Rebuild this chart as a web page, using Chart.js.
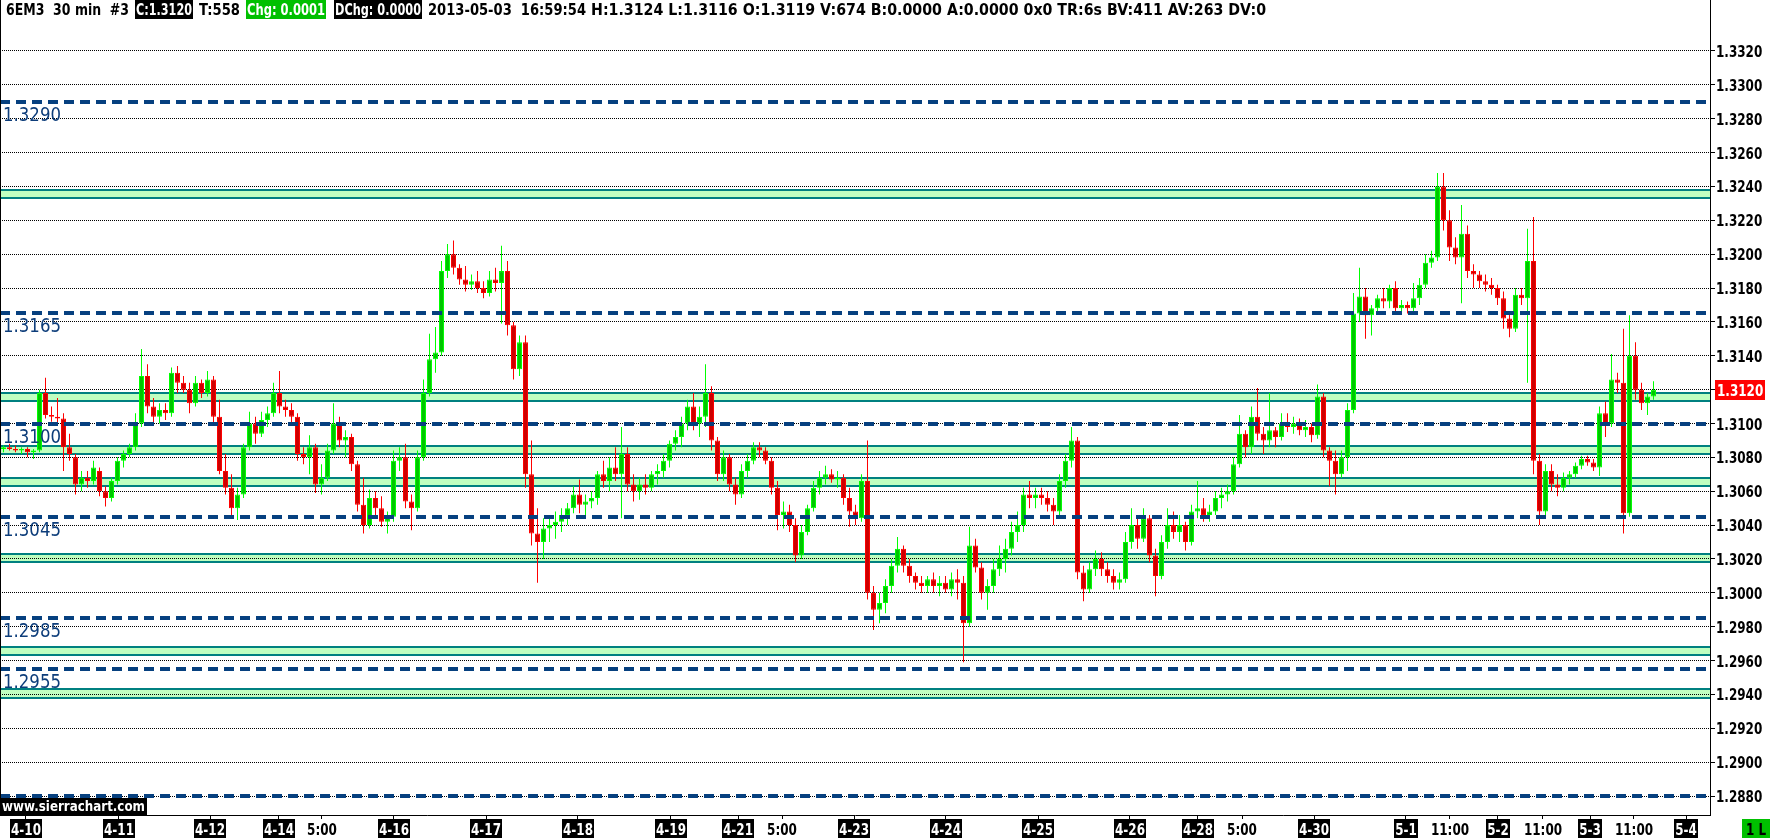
<!DOCTYPE html>
<html>
<head>
<meta charset="utf-8">
<title>6EM3 30 min</title>
<script src="https://cdn.jsdelivr.net/npm/chart.js@4.4.1/dist/chart.umd.min.js"></script>
<style>
  html, body { margin: 0; padding: 0; background: #fff; }
  canvas { display: block; }
</style>
</head>
<body>
<canvas id="chart" width="1772" height="840"></canvas>
<script>
// bars of 1.5 hours each, oldest first
var opens = [1.3085,1.3086,1.3085,1.3084,1.3085,1.3083,1.3084,1.3118,1.3105,1.3104,
1.3103,1.3086,1.3080,1.3064,1.3068,1.3066,1.3072,1.3060,1.3056,1.3066,
1.3078,1.3082,1.3086,1.3100,1.3128,1.3110,1.3104,1.3108,1.3106,1.3130,
1.3124,1.3120,1.3112,1.3124,1.3118,1.3126,1.3104,1.3072,1.3062,1.3050,
1.3058,1.3086,1.3100,1.3094,1.3102,1.3106,1.3118,1.3110,1.3108,1.3104,
1.3082,1.3080,1.3086,1.3064,1.3068,1.3084,1.3100,1.3090,1.3092,1.3076,
1.3052,1.3040,1.3056,1.3050,1.3042,1.3045,1.3078,1.3080,1.3054,1.3050,
1.3080,1.3118,1.3138,1.3142,1.3190,1.3200,1.3192,1.3185,1.3182,1.3184,
1.3180,1.3177,1.3185,1.3183,1.3190,1.3158,1.3132,1.3148,1.3070,1.3035,
1.3030,1.3038,1.3040,1.3042,1.3046,1.3050,1.3058,1.3052,1.3054,1.3056,
1.3070,1.3066,1.3074,1.3070,1.3082,1.3064,1.3060,1.3064,1.3062,1.3070,
1.3072,1.3078,1.3088,1.3092,1.3100,1.3110,1.3100,1.3104,1.3118,1.3090,
1.3070,1.3080,1.3064,1.3058,1.3072,1.3078,1.3086,1.3084,1.3078,1.3062,
1.3046,1.3048,1.3040,1.3022,1.3036,1.3050,1.3062,1.3068,1.3070,1.3067,
1.3068,1.3056,1.3048,1.3044,1.3066,1.3000,1.2990,1.2994,1.3004,1.3016,
1.3026,1.3016,1.3010,1.3006,1.3004,1.3008,1.3004,1.3006,1.3002,1.3008,
1.3006,1.2982,1.3028,1.3015,1.3000,1.3004,1.3014,1.3020,1.3026,1.3036,
1.3040,1.3058,1.3056,1.3058,1.3056,1.3052,1.3048,1.3066,1.3078,1.3090,
1.3012,1.3002,1.3014,1.3020,1.3014,1.3010,1.3006,1.3008,1.3030,1.3040,
1.3032,1.3044,1.3022,1.3010,1.3030,1.3040,1.3036,1.3040,1.3030,1.3048,
1.3050,1.3046,1.3048,1.3056,1.3058,1.3060,1.3076,1.3094,1.3086,1.3104,
1.3094,1.3090,1.3096,1.3092,1.3100,1.3098,1.3100,1.3096,1.3098,1.3093,
1.3116,1.3084,1.3078,1.3070,1.3080,1.3108,1.3165,1.3175,1.3164,1.3168,
1.3174,1.3172,1.3180,1.3168,1.3170,1.3168,1.3174,1.3182,1.3195,1.3198,
1.3240,1.3220,1.3204,1.3198,1.3212,1.3190,1.3188,1.3184,1.3182,1.3180,
1.3174,1.3162,1.3156,1.3176,1.3174,1.3196,1.3078,1.3048,1.3072,1.3064,
1.3062,1.3068,1.3070,1.3075,1.3079,1.3077,1.3074,1.3106,1.3100,1.3126,
1.3124,1.3047,1.3140,1.3120,1.3112,1.3116];

var highs = [1.3087,1.3088,1.3087,1.3086,1.3086,1.3085,1.3120,1.3127,1.3110,1.3115,
1.3106,1.3094,1.3082,1.3072,1.3072,1.3078,1.3074,1.3063,1.3068,1.3080,
1.3084,1.3088,1.3106,1.3144,1.3135,1.3115,1.3112,1.3112,1.3133,1.3134,
1.3128,1.3124,1.3128,1.3126,1.3131,1.3128,1.3114,1.3082,1.3070,1.3062,
1.3088,1.3107,1.3104,1.3107,1.3110,1.3124,1.3131,1.3114,1.3112,1.3106,
1.3086,1.3093,1.3088,1.3076,1.3088,1.3112,1.3104,1.3096,1.3094,1.3078,
1.3068,1.3061,1.3060,1.3057,1.3048,1.3084,1.3086,1.3088,1.3058,1.3084,
1.3126,1.3153,1.3157,1.3196,1.3206,1.3208,1.3194,1.3193,1.3188,1.3190,
1.3184,1.3190,1.3192,1.3205,1.3196,1.3160,1.3152,1.3152,1.3090,1.3050,
1.3044,1.3046,1.3048,1.3050,1.3053,1.3063,1.3067,1.3058,1.3060,1.3072,
1.3078,1.3080,1.3086,1.3098,1.3086,1.3070,1.3068,1.3070,1.3072,1.3076,
1.3082,1.3090,1.3096,1.3104,1.3114,1.3118,1.3110,1.3135,1.3122,1.3092,
1.3084,1.3082,1.3068,1.3076,1.3082,1.3089,1.3089,1.3086,1.3080,1.3066,
1.3054,1.3052,1.3044,1.3040,1.3052,1.3066,1.3072,1.3075,1.3073,1.3072,
1.3070,1.3062,1.3052,1.3070,1.3090,1.3004,1.3000,1.3008,1.3020,1.3033,
1.3028,1.3020,1.3012,1.3010,1.3010,1.3012,1.3010,1.3010,1.3012,1.3014,
1.3010,1.3039,1.3032,1.3018,1.3008,1.3020,1.3028,1.3032,1.3042,1.3048,
1.3062,1.3066,1.3062,1.3062,1.3060,1.3056,1.3070,1.3082,1.3098,1.3092,
1.3016,1.3018,1.3025,1.3024,1.3018,1.3014,1.3012,1.3036,1.3050,1.3044,
1.3050,1.3046,1.3026,1.3034,1.3050,1.3048,1.3046,1.3042,1.3052,1.3066,
1.3056,1.3052,1.3060,1.3062,1.3064,1.3080,1.3105,1.3096,1.3110,1.3121,
1.3098,1.3118,1.3098,1.3106,1.3106,1.3104,1.3103,1.3102,1.3100,1.3123,
1.3118,1.3086,1.3084,1.3084,1.3112,1.3177,1.3192,1.3180,1.3170,1.3176,
1.3180,1.3182,1.3184,1.3173,1.3172,1.3183,1.3186,1.3200,1.3202,1.3248,
1.3248,1.3226,1.3210,1.3229,1.3217,1.3194,1.3190,1.3188,1.3186,1.3182,
1.3178,1.3166,1.3180,1.3180,1.3215,1.3222,1.3082,1.3076,1.3076,1.3070,
1.3071,1.3072,1.3077,1.3081,1.3081,1.3079,1.3110,1.3113,1.3141,1.3130,
1.3156,1.3164,1.3148,1.3124,1.3118,1.3125];

var lows = [1.3083,1.3084,1.3083,1.3082,1.3080,1.3079,1.3083,1.3103,1.3101,1.3100,
1.3072,1.3078,1.3058,1.3060,1.3062,1.3064,1.3057,1.3051,1.3054,1.3064,
1.3074,1.3080,1.3084,1.3098,1.3106,1.3100,1.3100,1.3102,1.3104,1.3118,
1.3118,1.3106,1.3110,1.3115,1.3116,1.3100,1.3070,1.3058,1.3045,1.3043,
1.3056,1.3084,1.3088,1.3092,1.3098,1.3104,1.3106,1.3104,1.3100,1.3078,
1.3076,1.3070,1.3059,1.3058,1.3066,1.3082,1.3086,1.3080,1.3072,1.3048,
1.3035,1.3038,1.3046,1.3039,1.3035,1.3042,1.3072,1.3050,1.3037,1.3048,
1.3078,1.3116,1.3130,1.3140,1.3186,1.3188,1.3182,1.3178,1.3179,1.3177,
1.3174,1.3175,1.3178,1.3159,1.3152,1.3126,1.3128,1.3062,1.3028,1.3006,
1.3020,1.3030,1.3032,1.3036,1.3040,1.3047,1.3047,1.3044,1.3050,1.3052,
1.3062,1.3060,1.3066,1.3044,1.3060,1.3054,1.3055,1.3058,1.3060,1.3064,
1.3068,1.3074,1.3084,1.3086,1.3096,1.3096,1.3092,1.3098,1.3084,1.3066,
1.3066,1.3060,1.3052,1.3056,1.3068,1.3076,1.3080,1.3076,1.3058,1.3037,
1.3038,1.3036,1.3018,1.3020,1.3034,1.3048,1.3058,1.3064,1.3065,1.3062,
1.3052,1.3039,1.3040,1.3042,1.2996,1.2978,1.2982,1.2988,1.3000,1.3012,
1.3012,1.3006,1.3002,1.3000,1.3000,1.3000,1.2998,1.3000,1.2998,1.2996,
1.2959,1.2980,1.3012,1.2996,1.2990,1.3000,1.3010,1.3012,1.3022,1.3030,
1.3036,1.3050,1.3050,1.3052,1.3048,1.3040,1.3046,1.3062,1.3074,1.3008,
1.2995,1.3000,1.3010,1.3010,1.3006,1.3002,1.3002,1.3006,1.3026,1.3026,
1.3030,1.3018,1.2998,1.3008,1.3026,1.3032,1.3030,1.3025,1.3028,1.3044,
1.3042,1.3042,1.3046,1.3050,1.3054,1.3058,1.3074,1.3080,1.3082,1.3090,
1.3082,1.3086,1.3086,1.3090,1.3095,1.3094,1.3093,1.3092,1.3089,1.3091,
1.3080,1.3063,1.3058,1.3068,1.3072,1.3106,1.3160,1.3150,1.3152,1.3166,
1.3168,1.3168,1.3166,1.3165,1.3165,1.3166,1.3170,1.3180,1.3192,1.3196,
1.3214,1.3196,1.3194,1.3171,1.3186,1.3180,1.3180,1.3178,1.3176,1.3170,
1.3156,1.3151,1.3154,1.3170,1.3124,1.3070,1.3040,1.3044,1.3060,1.3057,
1.3060,1.3064,1.3068,1.3073,1.3075,1.3072,1.3069,1.3092,1.3098,1.3118,
1.3035,1.3045,1.3114,1.3108,1.3105,1.3114];

var closes = [1.3086,1.3085,1.3084,1.3085,1.3083,1.3084,1.3118,1.3105,1.3104,1.3103,
1.3086,1.3082,1.3064,1.3068,1.3066,1.3074,1.3060,1.3056,1.3066,1.3078,
1.3082,1.3086,1.3100,1.3128,1.3110,1.3104,1.3108,1.3106,1.3130,1.3124,
1.3120,1.3112,1.3124,1.3118,1.3126,1.3104,1.3072,1.3062,1.3050,1.3058,
1.3086,1.3100,1.3094,1.3102,1.3106,1.3118,1.3110,1.3108,1.3104,1.3082,
1.3080,1.3086,1.3064,1.3068,1.3084,1.3100,1.3090,1.3092,1.3076,1.3052,
1.3040,1.3056,1.3050,1.3042,1.3045,1.3078,1.3080,1.3054,1.3050,1.3080,
1.3118,1.3138,1.3142,1.3190,1.3200,1.3192,1.3185,1.3182,1.3184,1.3180,
1.3177,1.3185,1.3183,1.3190,1.3158,1.3132,1.3148,1.3070,1.3035,1.3030,
1.3038,1.3040,1.3042,1.3046,1.3050,1.3058,1.3052,1.3054,1.3056,1.3070,
1.3066,1.3074,1.3070,1.3082,1.3064,1.3060,1.3064,1.3062,1.3070,1.3072,
1.3078,1.3088,1.3092,1.3100,1.3110,1.3100,1.3104,1.3118,1.3090,1.3070,
1.3080,1.3064,1.3058,1.3072,1.3078,1.3086,1.3084,1.3078,1.3062,1.3046,
1.3048,1.3040,1.3022,1.3036,1.3050,1.3062,1.3068,1.3070,1.3067,1.3068,
1.3056,1.3048,1.3044,1.3066,1.3000,1.2990,1.2994,1.3004,1.3016,1.3026,
1.3016,1.3010,1.3006,1.3004,1.3008,1.3004,1.3006,1.3002,1.3008,1.3006,
1.2982,1.3028,1.3015,1.3000,1.3004,1.3014,1.3020,1.3026,1.3036,1.3040,
1.3058,1.3056,1.3058,1.3056,1.3052,1.3048,1.3066,1.3078,1.3090,1.3012,
1.3002,1.3014,1.3020,1.3014,1.3010,1.3006,1.3008,1.3030,1.3040,1.3032,
1.3044,1.3022,1.3010,1.3030,1.3040,1.3036,1.3040,1.3030,1.3048,1.3050,
1.3046,1.3048,1.3056,1.3058,1.3060,1.3076,1.3094,1.3086,1.3104,1.3094,
1.3090,1.3096,1.3092,1.3100,1.3098,1.3100,1.3096,1.3098,1.3093,1.3116,
1.3084,1.3078,1.3070,1.3080,1.3108,1.3165,1.3175,1.3164,1.3168,1.3174,
1.3172,1.3180,1.3168,1.3170,1.3168,1.3174,1.3182,1.3195,1.3198,1.3240,
1.3220,1.3204,1.3198,1.3212,1.3190,1.3188,1.3184,1.3182,1.3180,1.3174,
1.3162,1.3156,1.3176,1.3174,1.3196,1.3078,1.3048,1.3072,1.3064,1.3062,
1.3068,1.3070,1.3075,1.3079,1.3077,1.3074,1.3106,1.3100,1.3126,1.3124,
1.3047,1.3140,1.3120,1.3112,1.3116,1.3120];

// axis labels
var priceTicks = [1.2880,1.2900,1.2920,1.2940,1.2960,1.2980,1.3000,1.3020,1.3040,1.3060,1.3080,
                  1.3100,1.3120,1.3140,1.3160,1.3180,1.3200,1.3220,1.3240,1.3260,1.3280,1.3300,1.3320];
// [bar position, text]
var dateTicks = [[3.75,'4-10'],[19.18,'4-11'],[34.5,'4-12'],[45.85,'4-14'],[53.08,'5:00'],
                 [65.08,'4-16'],[80.42,'4-17'],[95.75,'4-18'],[111.25,'4-19'],[122.5,'4-21'],
                 [129.83,'5:00'],[141.83,'4-23'],[157.08,'4-24'],[172.42,'4-25'],[187.75,'4-26'],
                 [199.08,'4-28'],[206.42,'5:00'],[218.42,'4-30'],[233.75,'5-1'],[241.08,'11:00'],
                 [249.08,'5-2'],[256.58,'11:00'],[264.42,'5-3'],[271.75,'11:00'],[280.5,'5-4']];

// drawn levels
var levelLines = [1.3290, 1.3165, 1.3100, 1.3045, 1.2985, 1.2955, 1.2880];
var zoneTops = [1.3238, 1.3118, 1.3087, 1.3068, 1.3023, 1.2968, 1.2943];
var zoneBottoms = [1.3233, 1.3113, 1.3082, 1.3063, 1.3018, 1.2963, 1.2938];

// header text and its box colour
var headerParts = [
  ['6EM3  30 min  #3', null],
  ['C:1.3120', '#000000'],
  ['T:558', null],
  ['Chg: 0.0001', '#00c000'],
  ['DChg: 0.0000', '#000000'],
  ['2013-05-03  16:59:54', null],
  ['H:1.3124 L:1.3116 O:1.3119 V:674 B:0.0000 A:0.0000 0x0 TR:6s BV:411 AV:263 DV:0', null]
];
// where each header piece sits (left, right in px)
var headerSlots = [[6, 129], [135, 193], [199, 240], [246, 326], [334, 422], [428, 586], [591, 1266]];

var LEVEL_BLUE = '#06407f';

function boldFont(size) {
  return 'bold ' + size + 'px "DejaVu Sans"';
}

// narrow bold text, Sierra style
function narrowText(ctx, str, x, base, size, color, align, sx) {
  ctx.save();
  ctx.font = boldFont(size);
  var w = ctx.measureText(str).width * sx;
  var left = align === 'center' ? x - w / 2 : x;
  ctx.translate(left, base);
  ctx.scale(sx, 1);
  ctx.fillStyle = color;
  ctx.textAlign = 'left';
  ctx.textBaseline = 'alphabetic';
  ctx.fillText(str, 0, 0);
  ctx.restore();
  return w;
}

function narrowWidth(ctx, str, size, sx) {
  ctx.save();
  ctx.font = boldFont(size);
  var w = ctx.measureText(str).width * sx;
  ctx.restore();
  return w;
}

var sierraDecor = {
  id: 'sierraDecor',
  beforeDraw: function (chart) {
    var ctx = chart.ctx, a = chart.chartArea, ys = chart.scales.y;
    ctx.save();
    for (var i = 0; i < zoneTops.length; i++) {
      var t = Math.round(ys.getPixelForValue(zoneTops[i]));
      var b = Math.round(ys.getPixelForValue(zoneBottoms[i]));
      ctx.fillStyle = '#c0ffc0';
      ctx.fillRect(a.left, t - 1, a.right - a.left, b - t + 2);
      ctx.fillStyle = '#008080';
      ctx.fillRect(a.left, t - 1, a.right - a.left, 2);
      ctx.fillRect(a.left, b - 1, a.right - a.left, 2);
    }
    ctx.restore();
  },
  afterDatasetsDraw: function (chart) {
    var ctx = chart.ctx, a = chart.chartArea, ys = chart.scales.y;
    ctx.save();
    ctx.strokeStyle = LEVEL_BLUE;
    ctx.lineWidth = 4;
    ctx.setLineDash([10, 6]);
    levelLines.forEach(function (v) {
      var y = Math.round(ys.getPixelForValue(v));
      ctx.beginPath();
      ctx.moveTo(a.left, y);
      ctx.lineTo(a.right, y);
      ctx.stroke();
    });
    ctx.setLineDash([]);
    ctx.font = '20px "DejaVu Sans"';
    ctx.fillStyle = '#0d3d7a';
    ctx.textBaseline = 'alphabetic';
    levelLines.forEach(function (v) {
      var y = Math.round(ys.getPixelForValue(v));
      var txt = v.toFixed(4);
      var lsx = 58 / ctx.measureText(txt).width;
      ctx.save();
      ctx.translate(a.left + 3, y + 19);
      ctx.scale(lsx, 1);
      ctx.fillText(txt, 0, 0);
      ctx.restore();
    });
    ctx.restore();
  },
  afterDraw: function (chart) {
    var ctx = chart.ctx, a = chart.chartArea, ys = chart.scales.y, xs = chart.scales.x;
    var sx = 0.8;

    // left border
    ctx.fillStyle = '#000';
    ctx.fillRect(0, 0, 1, a.bottom);

    // price labels on the right
    priceTicks.forEach(function (v) {
      var y = ys.getPixelForValue(v);
      narrowText(ctx, v.toFixed(4), a.right + 6, Math.round(y) + 6, 15, '#000', 'left', sx);
    });

    // last price marker
    var last = closes[closes.length - 1];
    var yl = Math.round(ys.getPixelForValue(last));
    ctx.fillStyle = '#ff0000';
    ctx.fillRect(a.right + 5, yl - 10, 50, 20);
    narrowText(ctx, last.toFixed(4), a.right + 7, yl + 6, 15, '#fff', 'left', sx);

    // time axis labels
    dateTicks.forEach(function (t) {
      var px = Math.round(xs.getPixelForValue(t[0]));
      var isTime = t[1].indexOf(':') >= 0;
      if (isTime) {
        narrowText(ctx, t[1], px, a.bottom + 20, 15, '#000', 'center', sx);
      } else {
        var w = narrowWidth(ctx, t[1], 15, sx);
        ctx.fillStyle = '#000';
        ctx.fillRect(Math.round(px - w / 2 - 1), a.bottom + 4, Math.round(w + 2), 19);
        narrowText(ctx, t[1], px, a.bottom + 20, 15, '#fff', 'center', sx);
      }
    });

    // "1 L" box
    ctx.fillStyle = '#00c000';
    ctx.fillRect(1742, a.bottom + 4, 28, 19);
    narrowText(ctx, '1 L', 1756, a.bottom + 20, 15, '#000', 'center', sx);

    // watermark
    var wm = 'www.sierrachart.com';
    var wsx = 143 / narrowWidth(ctx, wm, 14, 1);
    ctx.fillStyle = '#000';
    ctx.fillRect(0, a.bottom - 17, 147, 17);
    narrowText(ctx, wm, 2, a.bottom - 4, 14, '#fff', 'left', wsx);

    // header line
    headerParts.forEach(function (p, k) {
      var slot = headerSlots[k];
      var boxed = !!p[1];
      var inner = slot[1] - slot[0] - (boxed ? 2 : 0);
      var hsx = inner / narrowWidth(ctx, p[0], 15, 1);
      if (boxed) {
        ctx.fillStyle = p[1];
        ctx.fillRect(slot[0], 0, slot[1] - slot[0], 19);
        narrowText(ctx, p[0], slot[0] + 1, 15, 15, '#fff', 'left', hsx);
      } else {
        narrowText(ctx, p[0], slot[0], 15, 15, '#000', 'left', hsx);
      }
    });
  }
};

var bodies = [], wicks = [], bodyFill = [], bodyEdge = [], wickColor = [];
for (var i = 0; i < closes.length; i++) {
  var up = closes[i] >= opens[i];
  bodies.push({x: i, y: [opens[i], closes[i]]});
  wicks.push({x: i, y: [lows[i], highs[i]]});
  bodyFill.push(up ? '#00c400' : '#cc0000');
  bodyEdge.push(up ? '#00ff00' : '#ff0000');
  wickColor.push(up ? '#00ff00' : '#ff0000');
}

var ctx = document.getElementById('chart').getContext('2d');
var priceChart = new Chart(ctx, {
  type: 'bar',
  data: {
    datasets: [{
      label: 'body',
      data: bodies,
      backgroundColor: bodyFill,
      borderColor: bodyEdge,
      borderWidth: 1,
      borderSkipped: false,
      inflateAmount: 0,
      barThickness: 5,
      grouped: false
    }, {
      label: 'range',
      data: wicks,
      backgroundColor: wickColor,
      borderWidth: 0,
      inflateAmount: 0,
      barThickness: 1,
      grouped: false
    }]
  },
  options: {
    responsive: false,
    animation: false,
    layout: { padding: 0 },
    plugins: {
      legend: { display: false },
      tooltip: { enabled: false }
    },
    scales: {
      x: {
        type: 'linear',
        position: 'bottom',
        offset: false,
        min: -0.5833,
        max: 284.4167,
        afterBuildTicks: function (s) {
          s.ticks = dateTicks.map(function (t) { return { value: t[0] }; });
        },
        afterFit: function (s) {
          s.height = 25;
          s.paddingLeft = 0;
          s.paddingRight = 0;
        },
        ticks: { display: false },
        grid: { offset: false, drawOnChartArea: false, drawTicks: true, tickLength: 4, tickColor: '#000', tickWidth: 1 },
        border: { display: true, color: '#000', width: 1 }
      },
      y: {
        type: 'linear',
        position: 'right',
        min: 1.28688,
        max: 1.33501,
        afterBuildTicks: function (s) {
          s.ticks = priceTicks.map(function (v) { return { value: v }; });
        },
        afterFit: function (s) {
          s.width = 62;
          s.paddingTop = 0;
          s.paddingBottom = 0;
        },
        ticks: { display: false },
        grid: { color: '#000', lineWidth: 1, drawTicks: true, tickLength: 5, tickColor: '#000' },
        border: { display: true, color: '#000', width: 1, dash: [1, 1] }
      }
    }
  },
  plugins: [sierraDecor]
});
</script>
</body>
</html>
